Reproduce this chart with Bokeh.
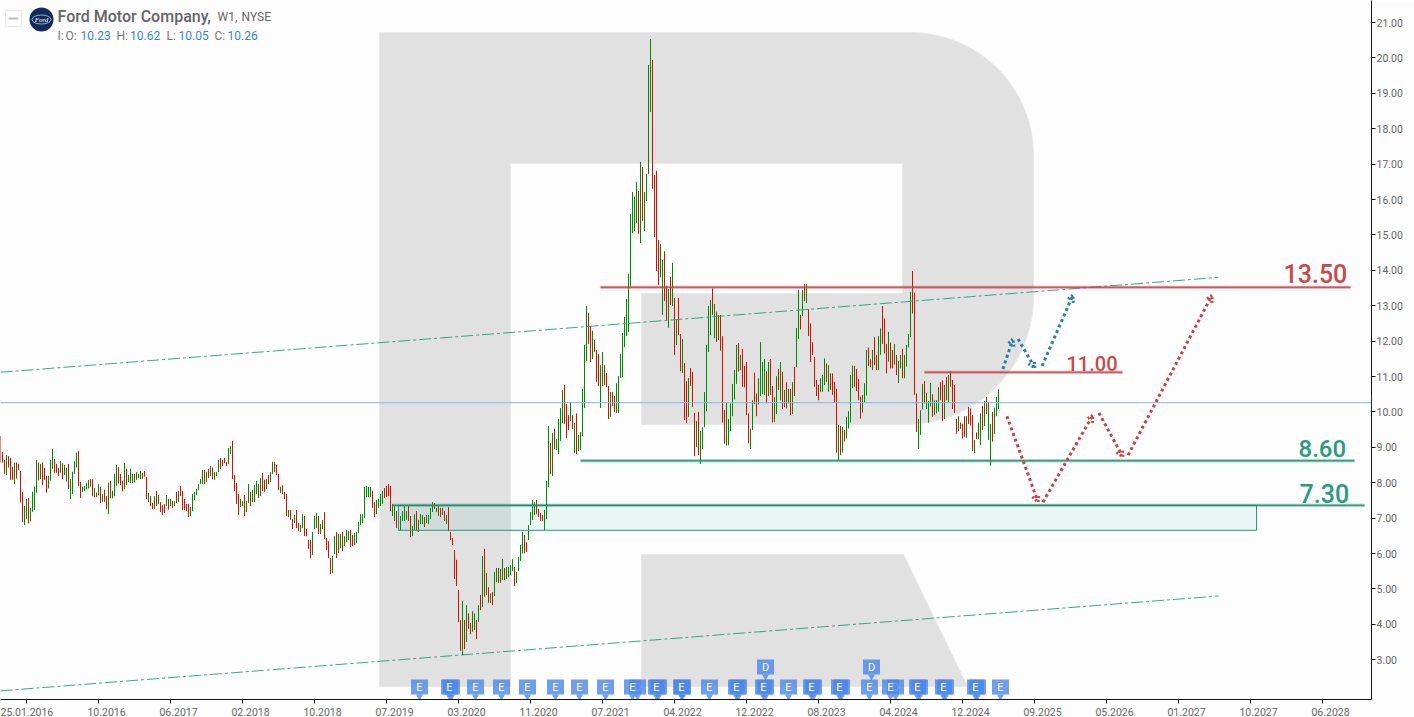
from bokeh.plotting import figure
from bokeh.embed import file_html
from bokeh.resources import INLINE
from bokeh.models import Label, Arrow, OpenHead, FixedTicker, NumeralTickFormatter, Range1d, LinearAxis
from bokeh.core.properties import value
import numpy as np

# ---- weekly price bars (Ford Motor Company, W1) ----
highs_a = [9.32,8.87,8.64,8.78,8.75,8.70,8.45,8.57,8.57,8.53,8.33,7.74,7.34,7.54,7.57,7.29,7.74,7.89,8.64,8.57,8.53,8.57,8.42,8.19,8.19,8.64,8.95,8.67,8.53,8.42,8.61,8.55,8.50,8.42,8.53,8.10,8.31,8.61,8.85,8.90,8.02,7.89,7.91,8.00,8.08,8.10,8.10,7.85,7.72,7.96,7.89,7.68,7.80,7.62,8.00,8.05,7.77,8.25,8.50,8.44,8.25,8.06,8.56,8.39,8.22,8.39,8.25,8.25,8.30,8.25,8.33,8.28,8.33,8.16,7.71,7.62,7.43,7.62,7.76,7.65,7.45,7.36,7.40,7.65,7.54,7.54,7.48,7.48,7.74,7.77,7.91,7.77,7.54,7.40,7.40,7.31,7.68,7.74,7.82,7.96]
lows_a = [8.57,8.57,8.25,8.22,8.43,8.08,8.08,7.96,8.12,8.36,7.44,6.89,6.80,6.98,6.85,6.91,7.18,7.23,7.72,8.06,8.10,7.93,8.08,7.72,7.84,8.06,8.39,8.28,8.28,8.19,8.28,8.10,8.22,8.03,7.82,7.54,7.68,8.25,8.43,7.91,7.57,7.74,7.77,7.81,7.84,7.89,7.62,7.59,7.59,7.64,7.43,7.46,7.46,7.25,7.11,7.56,7.56,7.62,7.91,7.98,7.93,7.76,7.82,7.93,8.02,7.99,7.99,8.01,8.08,8.13,8.10,8.11,8.17,7.54,7.45,7.34,7.26,7.26,7.34,7.40,7.17,7.09,7.14,7.34,7.24,7.34,7.29,7.34,7.43,7.45,7.62,7.23,7.23,7.20,7.03,7.06,7.20,7.51,7.65,7.79]
up_a = "RRRGRRRGRR" "RRGGRGGGGR" "GRRRGGGRRR" "GRGGRGGGGR" "RGGGGRRGRG" "RGRRGRGGGR" "RRGRGGGRGG" "GRRRGRRGRG" "RRRGRGRGRG" "RRRRRGGGGG"

highs_b = [8.10,8.36,8.36,8.31,8.39,8.47,8.43,8.30,8.30,8.64,8.70,8.64,8.70,8.59,8.98,9.04,9.18,8.22,7.99,7.68,7.54,7.48,7.65,7.48,7.96,7.74,7.79,7.93,8.05,7.96,8.13,8.28,8.08,8.10,8.22,8.30,8.59,8.59,8.50,8.25,7.89,7.93,7.74,7.68,7.23,7.23,6.97,7.09,7.23,6.86,6.80,7.11,7.06,6.69,6.38,6.38,6.61,7.06,7.14,7.06,6.83,6.95,7.17,6.44,6.35,5.87,5.93,6.49,6.61,6.55,6.55,6.61,6.49,6.66,6.63,6.66,6.52,6.58,6.61,6.89,7.11,7.11,7.88,7.91,7.88,7.88,7.77,7.45,7.51,7.55,7.68,7.77,7.85,7.91,7.96,7.91,7.40,7.34,7.20,7.37]
lows_b = [7.96,7.96,7.96,8.02,8.13,8.19,8.10,8.08,8.19,8.30,8.39,8.47,8.55,8.47,8.53,8.81,8.10,7.76,7.40,7.09,7.31,7.34,7.06,7.17,7.43,7.34,7.45,7.45,7.68,7.57,7.62,7.76,7.74,7.82,7.96,8.02,8.25,8.30,8.22,7.79,7.71,7.68,7.54,7.06,7.03,6.95,6.69,6.86,6.72,6.63,6.61,6.72,6.49,6.49,6.13,5.87,5.96,6.69,6.72,6.55,6.55,6.69,6.41,6.10,5.87,5.42,5.44,5.98,5.87,6.01,6.15,6.07,6.21,6.32,6.38,6.18,6.21,6.24,6.30,6.58,6.80,6.86,7.00,7.59,7.59,7.59,7.29,7.03,7.11,7.29,7.34,7.40,7.57,7.60,7.62,7.20,7.06,6.92,6.72,6.66]
up_b = "GGRGRGRGGG" "RRRRGGRRRR" "GGRGGRGGGR" "GRRGRGGRRR" "GRRRGRRGRR" "GGRRRRGGGR" "GGRRRRGGRG" "GRGGGRRGGG" "GGGGGGRRGG" "GGRRRRGGRG"

highs_c = [7.06,7.20,7.34,7.20,7.34,7.06,6.78,7.11,7.20,6.95,7.11,7.09,7.03,7.09,7.09,7.29,7.45,7.43,7.29,7.34,7.29,7.29,7.20,7.09,7.31,6.61,6.44,6.10,5.82,4.97,4.12,4.66,4.12,4.54,4.31,4.04,4.37,4.31,4.12,4.54,4.83,5.93,6.13,5.45,5.05,4.87,4.91,5.48,5.59,5.59,5.56,5.84,5.59,5.62,5.62,5.67,5.84,5.62,5.48,5.90,6.24,6.61,6.52,6.32,6.80,7.17,7.51,7.45,7.51,7.26,7.14,7.09,7.23,8.05,9.60,9.12,9.40,9.52,9.23,9.80,10.11,10.62,10.76,10.22,9.91,10.28,9.91,9.69,9.96,9.35,9.43,10.65,11.89,12.99,12.79,12.43,12.29,12.03,11.75,11.64]
lows_c = [6.66,6.92,6.92,6.95,6.92,6.46,6.49,6.66,6.63,6.61,6.83,6.83,6.75,6.86,6.83,6.97,7.17,7.26,7.17,7.06,7.03,7.09,6.92,6.83,6.63,6.38,6.24,5.28,5.08,4.06,3.25,3.13,3.30,3.50,3.87,3.72,3.79,3.84,3.58,4.07,4.40,4.49,4.78,4.83,4.61,4.60,4.54,4.80,5.19,5.17,5.17,5.25,5.25,5.28,5.33,5.39,5.50,5.08,5.17,5.50,5.79,6.00,6.01,6.04,6.38,6.80,6.95,7.09,7.11,7.03,6.92,6.92,6.66,6.97,7.88,8.24,8.19,8.95,8.92,8.81,9.18,9.68,9.66,9.26,9.49,9.74,9.52,8.84,8.81,8.89,8.92,9.32,10.11,11.44,11.92,11.41,11.49,11.69,10.85,10.73]
up_c = "GGGGRRGGRG" "GGRGGGGRRG" "RRRGRRRRRR" "RGRGRRGGRG" "RGRGRGRGGR" "GGRGGGGRGG" "GGRRGGGGRR" "RRGGGRGRGG" "GGRRRGRGRG" "GGGGRRGRRR"

highs_d = [11.32,11.69,11.32,11.10,10.73,10.56,10.56,10.45,10.81,11.01,11.64,12.23,12.68,13.19,13.90,15.59,16.21,16.08,16.49,16.24,17.06,16.92,16.21,16.72,19.80,20.53,19.94,16.69,16.81,14.86,14.74,14.29,14.54,13.56,13.47,13.81,14.21,13.22,12.60,13.22,12.20,12.06,11.38,10.87,10.96,11.24,11.13,9.97,9.74,10.00,9.46,9.57,10.56,11.89,12.99,13.16,13.49,13.05,12.83,12.74,12.74,12.14,10.05,10.26,9.80,10.24,10.79,11.18,11.89,11.94,11.61,11.78,11.30,11.41,9.96,9.53,10.33,11.11,10.52,10.95,11.97,11.41,11.49,11.15,11.41,11.49,10.73,10.41,11.01,11.21,11.41,11.13,10.62,10.84,10.65,10.65,10.84,11.27,12.37,13.44]
lows_d = [10.11,10.73,10.76,10.70,9.80,9.86,10.17,10.00,9.97,9.97,10.96,10.99,11.83,12.14,12.26,13.54,15.05,15.11,15.34,15.03,14.77,15.39,15.11,15.96,16.72,18.47,16.30,14.94,13.98,13.58,13.80,12.74,13.13,12.60,12.38,13.02,12.99,11.61,11.89,12.17,11.15,11.10,9.77,9.69,9.86,10.73,10.14,8.75,9.01,8.78,8.53,8.95,9.57,10.02,11.69,12.17,12.74,12.08,11.98,12.03,11.73,9.70,9.10,9.05,9.06,9.46,9.88,10.35,10.79,11.14,11.18,10.71,10.69,9.91,9.11,8.95,9.49,10.22,9.88,10.21,10.45,10.50,10.48,10.24,10.45,10.48,9.70,9.71,9.94,10.62,10.33,10.08,10.13,10.10,10.24,9.91,9.94,10.45,11.26,12.06]
up_d = "GGRRRGRRGG" "GGGGGGGGGR" "GRGGGGRRRR" "GGRRGRGRGR" "RGRRGRRRGR" "GGGGGGRGRG" "RRRGGGGGGR" "GRRRRGGRRG" "GGGRGRRGGR" "GRGRGRGRGG"

highs_e = [12.74,13.44,13.61,13.61,12.90,12.50,11.97,11.55,10.90,10.76,10.95,11.04,11.51,11.37,11.32,11.09,11.09,10.85,10.65,9.63,9.60,9.58,9.49,9.86,10.02,11.04,11.31,11.30,11.21,10.93,10.43,10.48,10.81,11.75,11.82,11.48,11.75,12.11,11.61,12.14,12.36,12.99,12.64,11.92,12.26,11.96,11.75,11.92,11.61,11.44,11.61,11.78,11.61,11.89,12.20,13.39,13.98,13.37,10.52,9.80,10.05,10.79,10.87,10.54,10.31,10.82,10.50,10.33,10.33,10.70,10.84,10.89,10.76,10.98,11.04,11.15,10.90,10.76,9.80,9.88,9.70,9.66,9.88,9.88,10.14,10.10,9.91,9.20,9.42,9.70,9.96,10.17,10.31,10.42,10.28,9.66,10.00,10.12,10.42,10.64]
lows_e = [12.33,12.71,13.13,13.08,12.14,11.41,11.61,10.71,10.45,10.33,10.57,10.57,10.76,10.85,10.57,10.62,10.48,10.26,8.85,8.64,8.78,8.85,9.16,9.25,9.53,9.70,10.67,10.71,10.59,10.33,9.81,9.98,10.26,10.46,11.30,11.26,11.18,11.32,11.18,11.18,11.61,11.92,11.65,11.09,11.42,11.23,11.23,11.34,11.04,10.82,11.23,10.95,10.95,11.28,11.82,12.12,12.78,10.48,9.43,8.95,9.35,10.07,10.24,10.08,9.70,10.15,9.86,9.91,9.96,10.01,10.33,9.74,9.80,10.33,10.27,10.71,10.08,9.97,9.38,9.46,9.52,9.25,9.30,9.27,9.66,9.61,8.90,8.84,9.23,9.23,9.06,9.49,9.60,9.94,9.21,8.48,9.16,9.38,9.88,10.08]
up_e = "RGRGRRRRRR" "GGGRGRRRRG" "RGRGGGGRRR" "RGGGRRGRRG" "GRRRGRRGRG" "GRGGGGRRRG" "GGRGGGRGGG" "RRGRGRRRRG" "RRRGRRRGRG" "GRGRGGRGGG"

# ---- axes ----
y_ticks = list(range(3, 22))
x_tick_bars = [13, 49, 85, 121, 157, 193, 229, 265, 301, 337, 373, 409, 445, 481, 517, 553, 589, 625, 661]
x_tick_labels = ["25.01.2016","10.2016","06.2017","02.2018","10.2018","07.2019","03.2020","11.2020","07.2021",
                 "04.2022","12.2022","08.2023","04.2024","12.2024","09.2025","05.2026","01.2027","10.2027","06.2028"]
x_label_shift = [-0.5] + [4] * 18

# ---- drawn levels: (start bar, end bar, price) ----
last_price = 10.26
level_1350 = (300, 675, 13.52)
level_1100 = (462, 561, 11.12)
level_860 = (290, 677, 8.62)
level_730 = (196, 682, 7.36)
zone = (199, 628, 7.36, 6.655)
channel_up = ([0, 609], [11.12, 13.80])
channel_dn = ([0, 609], [2.12, 4.80])

# ---- forecast arrows: (bar0, price0, bar1, price1) ----
blue_arrows = [(501.2,11.21,506.2,12.06),(508.8,12.06,517.2,11.24),(520.8,11.30,536.2,13.30)]
red_arrows = [(503.2,9.88,518.8,7.45),(521.2,7.45,546.2,9.91),(549.2,9.97,561.2,8.73),(563.8,8.78,605.8,13.30)]

# ---- event flags (bar index of each) ----
earn_bars = [209.5,224.5,237.5,250.5,263.5,277.5,289.5,302.5,316,328,340.5,354.5,368,381.5,394,405.5,419.5,434.5,445,458.5,471.5,487.5,500]
earn_shadow_bars = [225.5,329,341,369,382.5,406.5,420.5,459.5,472.5,488.5]
div_low_bars = [318.5, 447.5]
div_top_bars = [382.5, 435.5]

W, H = 1414, 717
FR, FB = 1371, 699
# bokeh's canvas sits half a pixel off, so a whole screen coordinate lands on a pixel column
def bx(px): return px / 2.0
def py(y): return 14 - (y - 269.8) / 35.4

p = figure(output_backend="svg", toolbar_location=None, frame_width=FR, frame_height=FB,
           x_range=Range1d(bx(0), bx(FR)), y_range=Range1d(py(FB), py(0)), y_axis_location="right",
           min_border_left=0, min_border_right=W-FR, min_border_top=0, min_border_bottom=H-FB,
           background_fill_color="#FDFDFD", border_fill_color="#FDFDFD", outline_line_color=None,
           margin=(0, 0, 0, 0))
p.grid.visible = False

# watermark R
a1 = np.linspace(-np.pi/2, 0, 30)
a2 = np.linspace(0, np.pi/2, 30)
wx = [379, 910] + list(910 + 123*np.cos(a1)) + list(905 + 128*np.cos(a2)) + [641, 641, 902, 902, 510, 510, 379]
wy = [32, 32] + list(155 + 123*np.sin(a1)) + list(296 + 128*np.sin(a2)) + [424, 293, 293, 163, 163, 686, 686]
p.patch([bx(v) for v in wx], [py(v) for v in wy], fill_color="#E1E1E1", line_color="#E9E9E9", line_width=1)
lx, ly = [641, 903, 967, 641], [554, 554, 686, 686]
p.patch([bx(v) for v in lx], [py(v) for v in ly], fill_color="#E1E1E1", line_color="#E9E9E9", line_width=1)

# bars
highs = highs_a + highs_b + highs_c + highs_d + highs_e
lows = lows_a + lows_b + lows_c + lows_d + lows_e
ups = up_a + up_b + up_c + up_d + up_e
n = min(len(highs), len(lows), len(ups))
idx = list(range(n))
cols = ["#008A00" if ups[i] == "G" else "#CC1400" for i in idx]
p.segment(idx, highs[:n], idx, lows[:n], line_color=cols, line_width=1)

# zone
p.quad(left=zone[0], right=zone[1], top=zone[2], bottom=zone[3], fill_color="#1F9E7E", fill_alpha=0.08,
       line_color="#1F9E7E", line_width=1)

# channels
for xs, ys in (channel_up, channel_dn):
    p.line(xs, ys, line_color="#1F9E7E", line_width=1, line_dash="12 3 3 3", line_alpha=0.9)

# price line
p.line([bx(0), bx(FR)], [last_price, last_price], line_color="#85B6E8", line_width=1)

# levels
for lv, c in ((level_1350, "#C4444A"), (level_1100, "#C4444A"), (level_860, "#1F8F6F"), (level_730, "#1F8F6F")):
    p.line([lv[0], lv[1]], [lv[2], lv[2]], line_color=c, line_width=3, line_alpha=0.5)
    p.line([lv[0], lv[1]], [lv[2], lv[2]], line_color=c, line_width=1)

# forecast arrows
for arr, c in ((blue_arrows, "#2A7FA5"), (red_arrows, "#C4444A")):
    for a in arr:
        p.add_layout(Arrow(end=OpenHead(size=7, line_color=c, line_width=3, line_dash="2 2"),
                           x_start=a[0], y_start=a[1], x_end=a[2], y_end=a[3],
                           line_color=c, line_width=3, line_dash="3 3"))

# event flags
ey = py(686.5); dy = py(666.5)
ty = py(696); tdy = py(676)
F = "#4A86E8"
for xs, yb, yt, t in ((div_low_bars, ey, ty, "D"), (earn_shadow_bars, ey, ty, None), (earn_bars, ey, ty, "E"), (div_top_bars, dy, tdy, "D")):
    ys = [yb]*len(xs)
    p.rect(xs, ys, width=17, height=15, width_units="screen", height_units="screen", fill_color=F, fill_alpha=0.8, line_color=None)
    p.scatter(xs, [yt]*len(xs), marker="inverted_triangle", size=7, fill_color=F, fill_alpha=0.8, line_color=None)
    if t:
        p.text(xs, ys, text=[t]*len(xs), text_color="#FFFFFF", text_font=value("Roboto"), text_font_size="11px",
               text_align="center", text_baseline="middle")

# header widgets
p.rect([bx(13)], [py(18)], width=16, height=16, width_units="screen", height_units="screen", fill_color="#FFFFFF",
       line_color="#E8E8E8")
p.line([bx(8), bx(18)], [py(18), py(18)], line_color="#BDBDBD", line_width=2)
p.scatter([bx(41)], [py(19)], marker="circle", size=24, fill_color="#102A5C", line_color=None)
p.ellipse([bx(41)], [py(19)], width=19, height=9, width_units="screen", height_units="screen", fill_color=None,
          line_color="#DDE4F0", line_width=0.7)
p.text([bx(41)], [py(19)], text=["Ford"], text_color="#FFFFFF", text_font=value("Liberation Serif"),
       text_font_size="7px", text_font_style="italic", text_align="center", text_baseline="middle")

def label(x, y, text, size, color, style="normal", font="Roboto", align="left", base="alphabetic", **kw):
    p.add_layout(Label(x=bx(x), y=py(y), text=text, text_font=font, text_font_size=size,
                       text_color=color, text_font_style=style, text_align=align, text_baseline=base, **kw))

label(57, 15.5, "Ford Motor Company,", "16px", "#666666", "normal", font="Roboto Medium")
label(217, 16, "W1,", "12px", "#666666")
label(241, 16, "NYSE", "12px", "#666666")
GR, BL = "#777777", "#3A82D6"
for x, t, c in ((57, "I:", GR), (65, "O:", GR), (80, "10.23", BL), (116, "H:", GR), (129.5, "10.62", BL), (166, "L:", GR),
                (178, "10.05", BL), (214, "C:", GR), (227, "10.26", BL)):
    label(x, 35, t, "12px", c)

label(1283, 273, "13.50", "25px", "#C64B4B", "normal", font="Roboto Medium")
label(1066, 363, "11.00", "20px", "#C64B4B", "normal", font="Roboto Medium")
label(1298, 448, "8.60", "24px", "#2A9B7F", "normal", font="Roboto Medium")
label(1299, 493, "7.30", "25px", "#2A9B7F", "normal", font="Roboto Medium")

# axes
ya = p.yaxis[0]
ya.ticker = FixedTicker(ticks=y_ticks)
ya.formatter = NumeralTickFormatter(format="0.00")
ya.major_tick_in = 0; ya.major_tick_out = 4; ya.minor_tick_line_color = None
ya.axis_line_color = "#111111"; ya.major_tick_line_color = "#111111"
ya.major_label_text_font = "Roboto"; ya.major_label_text_font_size = "10.5px"; ya.major_label_text_color = "#666666"
ya.major_label_standoff = 1

xa = p.xaxis[0]
xa.ticker = FixedTicker(ticks=x_tick_bars)
xa.major_tick_in = 0; xa.major_tick_out = 4; xa.minor_tick_line_color = None
xa.axis_line_color = "#111111"; xa.major_tick_line_color = "#111111"
xa.major_label_overrides = {b: " " for b in x_tick_bars}
xa.major_label_text_font_size = "1px"; xa.major_label_standoff = 0

# the date labels sit right of their ticks in the reference: a second, line-less axis carries them
x_label_pos = [b + s for b, s in zip(x_tick_bars, x_label_shift)]
xl = LinearAxis(ticker=FixedTicker(ticks=x_label_pos), major_label_overrides=dict(zip(x_label_pos, x_tick_labels)),
                axis_line_color=None, major_tick_line_color=None, minor_tick_line_color=None,
                major_tick_in=0, major_tick_out=0, major_label_standoff=0,
                major_label_text_font="Roboto", major_label_text_font_size="10.5px", major_label_text_color="#666666")
p.add_layout(xl, "below")

# current price tag: one thick tick of an axis fixed at the end of the x range
tag = LinearAxis(fixed_location=bx(FR), ticker=FixedTicker(ticks=[last_price]),
                 major_label_overrides={last_price: "10.26"}, axis_line_color=None, minor_tick_line_color=None,
                 major_tick_in=0, major_tick_out=43, major_tick_line_color="#2B7BD1", major_tick_line_width=15,
                 major_label_standoff=-37, major_label_text_font="Roboto", major_label_text_font_size="10.5px",
                 major_label_text_font_style="bold", major_label_text_color="#FFFFFF")
p.add_layout(tag, "right")

open("out.html", "w").write(file_html(p, INLINE))
